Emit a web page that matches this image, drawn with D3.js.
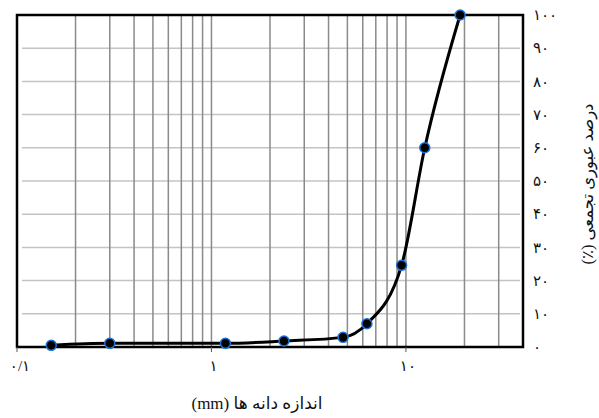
<!DOCTYPE html>
<html>
<head>
<meta charset="utf-8">
<script src="https://cdn.jsdelivr.net/npm/d3@7"></script>
<style>
  body { margin: 0; background: #fff; }
  svg { display: block; }
  text { font-family: "Liberation Serif", "DejaVu Sans", serif; fill: #111; }
</style>
</head>
<body>
<div id="chart"></div>
<script>
// sieve size (mm) and cumulative passing (%)
var sizes = [0.15, 0.3, 1.18, 2.36, 4.75, 6.3, 9.5, 12.5, 19];
var passing = [0.5, 1.1, 1.1, 1.8, 2.9, 7, 24.6, 60, 100];

var xTicks = [0.1, 1, 10];
var xTickLabels = ["۰/۱", "۱", "۱۰"];
var xGrid = [0.2, 0.3, 0.4, 0.5, 0.6, 0.7, 0.8, 0.9, 1, 2, 3, 4, 5, 6, 7, 8, 9, 10, 20, 30];
var yTicks = [0, 10, 20, 30, 40, 50, 60, 70, 80, 90, 100];
var xTitle = "اندازه دانه ها (mm)";
var yTitle = "درصد عبوری تجمعی (٪)";

function fa(n){
    return String(n).replace(/\d/g, function(d){ return "۰۱۲۳۴۵۶۷۸۹"[d]; });
}

var width = 599, height = 418;
var pLeft = 17, pTop = 15, pRight = 523, pBottom = 347;

var svg = d3.select("#chart").append("svg")
    .attr("width", width)
    .attr("height", height);

var x = d3.scaleLog().domain([0.1, 40]).range([pLeft, pRight]);
var y = d3.scaleLinear().domain([0, 100]).range([pBottom, pTop]);

// horizontal grid
svg.append("g").selectAll("line")
    .data(yTicks.filter(function(d){ return d > 0 && d < 100; }))
    .enter().append("line")
    .attr("x1", pLeft + 5).attr("x2", pRight - 3)
    .attr("y1", function(d){ return y(d); })
    .attr("y2", function(d){ return y(d); })
    .style("stroke", "#c4c4c4")
    .style("stroke-width", 1.5);

// vertical grid
svg.append("g").selectAll("line")
    .data(xGrid)
    .enter().append("line")
    .attr("x1", function(d){ return x(d); })
    .attr("x2", function(d){ return x(d); })
    .attr("y1", pTop).attr("y2", pBottom)
    .style("stroke", "#8a8a8a")
    .style("stroke-width", 1.5);

// frame
svg.append("rect")
    .attr("x", pLeft).attr("y", pTop)
    .attr("width", pRight - pLeft).attr("height", pBottom - pTop)
    .style("fill", "none")
    .style("stroke", "#000")
    .style("stroke-width", 2.5);

// x axis ticks and labels
var xg = svg.append("g");
xg.selectAll("line")
    .data(xTicks)
    .enter().append("line")
    .attr("x1", function(d){ return x(d); })
    .attr("x2", function(d){ return x(d); })
    .attr("y1", pBottom).attr("y2", pBottom + 5)
    .style("stroke", "#555")
    .style("stroke-width", 1);
xg.selectAll("text")
    .data(xTicks)
    .enter().append("text")
    .attr("x", function(d, i){ return i == 0 ? x(d) + 3 : x(d) + 2; })
    .attr("y", pBottom + 24)
    .style("text-anchor", "middle")
    .style("font-size", "15px")
    .text(function(d, i){ return xTickLabels[i]; });

// y axis labels (right side)
svg.append("g").selectAll("text")
    .data(yTicks)
    .enter().append("text")
    .attr("x", 533)
    .attr("y", function(d){ return y(d); })
    .attr("dy", "0.35em")
    .style("text-anchor", "start")
    .style("font-size", "15px")
    .text(function(d){ return fa(d); });

// titles
svg.append("text")
    .attr("x", 257).attr("y", 409)
    .attr("direction", "rtl")
    .style("text-anchor", "middle")
    .style("font-size", "17px")
    .text(xTitle);

svg.append("text")
    .attr("transform", "translate(587,184) rotate(-90)")
    .attr("direction", "rtl")
    .attr("dy", "0.35em")
    .style("text-anchor", "middle")
    .style("font-size", "16.5px")
    .text(yTitle);

// curve
var line = d3.line()
    .x(function(d){ return x(d[0]); })
    .y(function(d){ return y(d[1]); })
    .curve(d3.curveMonotoneX);

var pts = sizes.map(function(s, i){ return [s, passing[i]]; });

svg.append("path")
    .datum(pts)
    .attr("d", line)
    .style("fill", "none")
    .style("stroke", "#000")
    .style("stroke-width", 3);

svg.append("g").selectAll("circle")
    .data(pts)
    .enter().append("circle")
    .attr("cx", function(d){ return x(d[0]); })
    .attr("cy", function(d){ return y(d[1]); })
    .attr("r", 5)
    .style("fill", "#000")
    .style("stroke", "#1a73d9")
    .style("stroke-width", 1.5);
</script>
</body>
</html>
